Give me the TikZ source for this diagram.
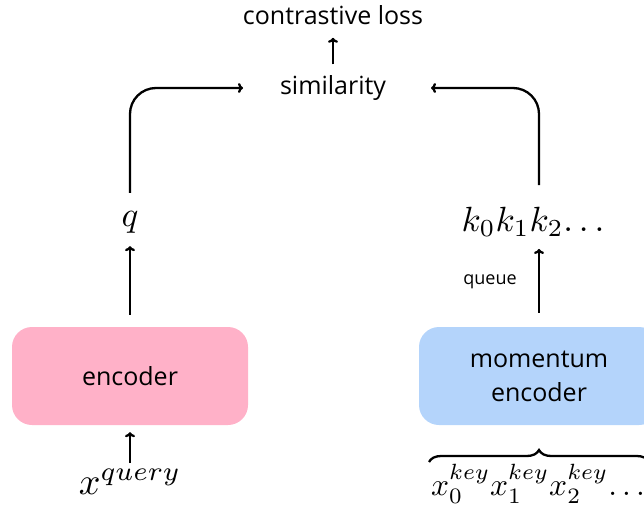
\documentclass[tikz,border=0pt]{standalone}
\usepackage{fontspec}
\setmainfont{Open Sans}
\usetikzlibrary{arrows.meta,decorations.pathreplacing}
\definecolor{pinkbox}{RGB}{255,177,200}
\definecolor{bluebox}{RGB}{180,212,251}
\newcommand{\mybigmath}[2]{\scalebox{#1}{$#2$}}
\begin{document}
\begin{tikzpicture}[x=1pt,y=-1pt,
  conn/.style={line width=2.3pt,-{To[length=5pt,width=10pt]}},
  lbl/.style={font=\fontsize{25}{28}\selectfont,inner sep=0pt},
  mth/.style={inner sep=0pt},
  boxst/.style={rounded corners=20pt,minimum height=98pt,font=\fontsize{25}{34}\selectfont,align=center}]
\useasboundingbox (0,0) rectangle (644,513);
\begin{scope}
\clip (0,0) rectangle (644,513);
\node[boxst,fill=pinkbox,minimum width=236pt] (enc) at (130,376) {encoder};
\node[boxst,fill=bluebox,minimum width=240pt] (menc) at (539,376) {momentum\\encoder};
\end{scope}
\node[lbl] (loss) at (333,15) {contrastive loss};
\node[lbl] (sim) at (333,88) {similarity};
\node[mth] (q) at (130,222) {\mybigmath{3.5}{q}};
\node[mth] (k) at (533,222) {\mybigmath{3.5}{k_0k_1k_2{\ldots}}};
\node[mth] (xq) at (130,482) {\mybigmath{3.8}{x^{query}}};
\node[mth,anchor=west] (xk) at (431,484) {\mybigmath{3.15}{x_0^{key}x_1^{key}x_2^{key}{\ldots}}};
\node[font=\fontsize{18}{20}\selectfont,inner sep=0pt] (qlab) at (490,282) {queue};
\coordinate (lin) at (243,88);
\coordinate (rin) at (431,88);
\draw[conn] ([yshift=11]sim.north) -- ([yshift=-13]loss.south);
\draw[conn,rounded corners=26pt] ([yshift=18]q.north) |- (lin);
\draw[conn,rounded corners=26pt] ([yshift=22]k.north -| 539,0) |- (rin);
\draw[conn] ([yshift=12]enc.north) -- ([yshift=-13]q.south);
\draw[conn] ([yshift=14]menc.north -| 539,0) -- ([yshift=-12]k.south -| 539,0);
\draw[conn] ([yshift=6]xq.north) -- ([yshift=-7]enc.south);
\draw[line width=2.3pt,decorate,decoration={brace,amplitude=12pt}] (429,462) -- (649,462);
\end{tikzpicture}
\end{document}
